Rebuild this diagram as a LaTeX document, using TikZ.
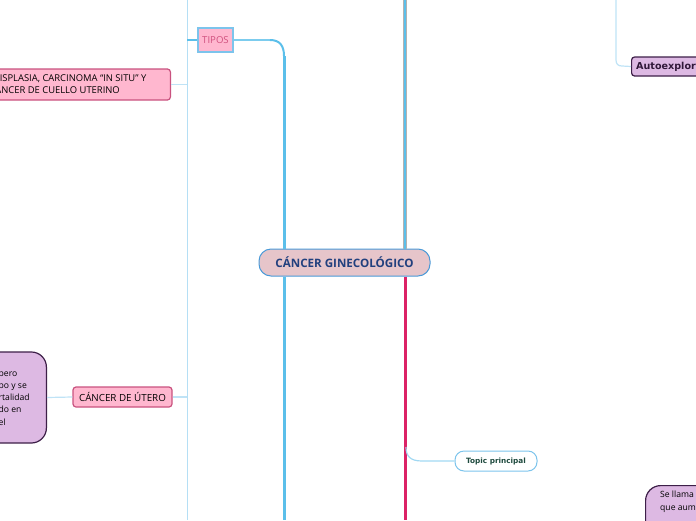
\documentclass[tikz,border=0pt]{standalone}
\usepackage{fontspec}
\setmainfont{Open Sans}
\newfontfamily\dejavu{DejaVu Sans}
\definecolor{thickblue}{HTML}{5BBFEA}
\definecolor{thinblue}{HTML}{BFE3F6}
\definecolor{crimson}{HTML}{DC2266}
\definecolor{centerfill}{HTML}{E6C5CA}
\definecolor{centerborder}{HTML}{4A9AD8}
\definecolor{centertext}{HTML}{22407E}
\definecolor{pinkfill}{HTML}{FFB7CF}
\definecolor{pinkborder}{HTML}{C9527F}
\definecolor{tipostext}{HTML}{D0507E}
\definecolor{tiposborder}{HTML}{7CC4EC}
\definecolor{purplefill}{HTML}{DDB9E3}
\definecolor{purpleborder}{HTML}{3D1F48}
\definecolor{topictext}{HTML}{1E4A3E}
\tikzset{
  centerbox/.style={draw=centerborder, line width=1pt, fill=centerfill, rounded corners=12pt, minimum width=171pt, minimum height=27pt, inner sep=0pt, text=centertext, font=\fontsize{11.6}{13}\selectfont\bfseries},
  pinkbox/.style={draw=pinkborder, line width=1.2pt, fill=pinkfill, rounded corners=3pt, inner sep=0pt, font=\fontsize{9.8}{12}\selectfont},
  tiposbox/.style={draw=tiposborder, line width=1.2pt, fill=pinkfill, inner sep=0pt, minimum width=35pt, minimum height=24pt, text=tipostext, font=\fontsize{9.6}{10}\selectfont},
  purplebox/.style={draw=purpleborder, line width=1.2pt, fill=purplefill, inner sep=0pt},
  topicbox/.style={draw=tiposborder, line width=1pt, fill=white, rounded corners=9pt, minimum width=82pt, minimum height=20pt, inner sep=0pt, text=topictext, font=\dejavu\fontsize{7.3}{8}\selectfont\bfseries},
  thinline/.style={draw=thinblue, line width=1.2pt},
  thickline/.style={draw=thickblue, line width=3pt},
  linetext/.style={inner sep=0pt, anchor=base east, font=\fontsize{9.4}{12}\selectfont},
  purpletext/.style={inner sep=0pt, anchor=base west, font=\fontsize{8.6}{12}\selectfont},
}
\begin{document}
\begin{tikzpicture}[x=1pt,y=-1pt]
\useasboundingbox (0,0) rectangle (696,520);
\clip (0,0) rectangle (696,520);
% coordinates
\coordinate (ltop) at (187,0);
\coordinate (lbot) at (187,520);
\coordinate (rtop) at (405,0);
\coordinate (rbot) at (405,520);
\coordinate (mbot) at (284,520);
\coordinate (ftop) at (616,0);
% left thin vertical
\draw[thinline, draw=thinblue!90!thickblue, line width=1pt] (ltop) -- (lbot);
% nodes
\node[centerbox] (center) at (344.5,262.5) {CÁNCER GINECOLÓGICO};
\node[tiposbox] (tipos) at (215.5,40) {TIPOS};
\node[pinkbox, minimum width=200pt, minimum height=31pt, anchor=east] (displasia) at (171,84.5) {};
\node[linetext] (displasiaA) at (146.5,81.5) {DISPLASIA, CARCINOMA “IN SITU” Y};
\node[linetext] (displasiaB) at (120,93.5) {CÁNCER DE CUELLO UTERINO};
\node[pinkbox, minimum width=99pt, minimum height=20pt] (utero) at (122.5,397) {CÁNCER DE ÚTERO};
\node[purplebox, rounded corners=15pt, minimum width=100pt, minimum height=91pt, anchor=east] (purpleleft) at (47,397.5) {};
\node[purpletext] (pl1) at (-1.5,376) {pero};
\node[purpletext] (pl2) at (-1.5,388.3) {po y se};
\node[purpletext] (pl3) at (-1.5,400.6) {rtalidad};
\node[purpletext] (pl4) at (-1.5,412.9) {do en};
\node[purpletext] (pl5) at (-1.5,425.2) {el};
\node[purplebox, rounded corners=3pt, minimum width=90pt, minimum height=19pt, anchor=west] (autoexp) at (631,66.5) {};
\node[anchor=west, inner sep=0pt, font=\dejavu\fontsize{9.6}{10}\selectfont\bfseries, text=purpleborder!80!black] (autoexptext) at (636,67) {Autoexploración};
\node[purplebox, rounded corners=15pt, minimum width=100pt, minimum height=80pt, anchor=north west] (purpleright) at (645,485) {};
\node[anchor=base west, inner sep=0pt, font=\fontsize{8.6}{12.6}\selectfont] (pr1) at (660,497.5) {Se llama};
\node[anchor=base west, inner sep=0pt, font=\fontsize{8.6}{12.6}\selectfont] (pr2) at (660,510) {que aum};
\node[anchor=base west, inner sep=0pt, font=\fontsize{8.6}{12.6}\selectfont] (pr3) at (660,528.5) {ent};
\node[topicbox] (topic) at (496,461) {Topic principal};
% connectors
\draw[thinline] (displasia.east) -- (displasia.east -| ltop);
\draw[thinline] (utero.east) -- (utero.east -| ltop);
\draw[thinline] (purpleleft.east) -- (utero.west);
\draw[draw=thickblue, line width=1.5pt] (tipos.west -| ltop) -- (tipos.west);
% left main branch
\draw[thickline] (center.south -| mbot) -- (mbot);
\draw[thickline] (center.north -| mbot) -- (284,56);
\draw[draw=thickblue!80!white, line width=1.3pt] (tipos.east) -- (270,40);
\draw[draw=thickblue, line width=2pt] (270,40) .. controls (280,40) and (284,46) .. (284,56);
% right top branch
\draw[draw=gray!60, line width=4pt] (rtop) -- (center.north -| rtop);
\draw[draw=thickblue, line width=2.6pt] (rtop) -- (center.north -| rtop);
% right bottom crimson
\draw[draw=crimson, line width=3pt] (center.south -| rbot) -- (rbot);
\draw[thinline, draw=thinblue!70!thickblue] (406,447) .. controls (406,456) and (410,461) .. (422,461) -- (topic.west);
% far right
\draw[thinline] (ftop) -- (616,60) .. controls (616,64) and (618,66) .. (622,66) -- (autoexp.west);
\end{tikzpicture}
\end{document}
